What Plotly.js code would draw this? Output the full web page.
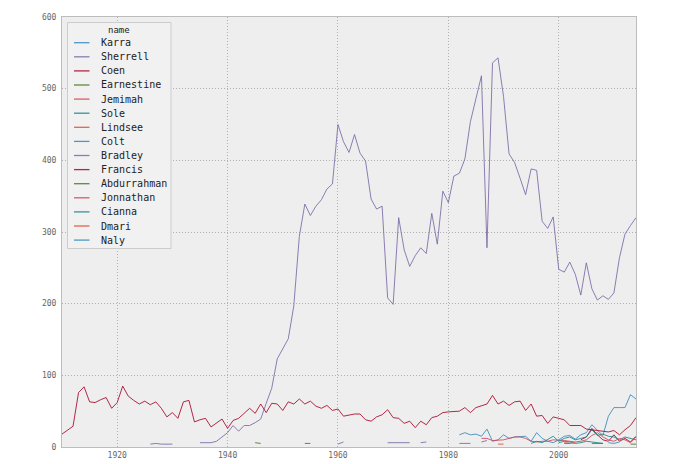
<!DOCTYPE html>
<html>
<head>
<meta charset="utf-8">
<script src="https://cdn.plot.ly/plotly-3.0.1.min.js"></script>
<style>html,body{margin:0;padding:0;background:#fff;}#chart{width:680px;height:464px;}</style>
</head>
<body>
<div id="chart"></div>
<script>
// ---- data ----
const years = [1910,1911,1912,1913,1914,1915,1916,1917,1918,1919,
  1920,1921,1922,1923,1924,1925,1926,1927,1928,1929,
  1930,1931,1932,1933,1934,1935,1936,1937,1938,1939,
  1940,1941,1942,1943,1944,1945,1946,1947,1948,1949,
  1950,1951,1952,1953,1954,1955,1956,1957,1958,1959,
  1960,1961,1962,1963,1964,1965,1966,1967,1968,1969,
  1970,1971,1972,1973,1974,1975,1976,1977,1978,1979,
  1980,1981,1982,1983,1984,1985,1986,1987,1988,1989,
  1990,1991,1992,1993,1994,1995,1996,1997,1998,1999,
  2000,2001,2002,2003,2004,2005,2006,2007,2008,2009,
  2010,2011,2012,2013,2014];

const francisCounts = [18,24,29,76,84,63,62,66,69,54,
  62,85,71,65,60,64,59,63,54,42,
  48,40,63,65,35,38,40,28,33,39,
  26,37,40,47,54,47,60,48,61,60,
  51,63,60,67,60,64,57,54,58,51,
  53,43,45,46,46,38,36,42,45,52,
  41,40,33,36,27,36,31,41,43,48,
  49,50,50,55,48,55,58,60,72,60,
  64,58,63,64,51,60,43,44,33,42,
  40,38,30,30,30,25,24,24,22,21,
  23,17,24,30,41];

const bradleyCounts = [null,null,null,null,null,null,null,null,null,null,
  null,null,null,null,null,null,4,5,4,4,
  4,null,null,null,null,6,6,6,8,14,
  20,30,22,30,30,34,39,61,82,123,
  138,151,197,294,339,323,336,345,360,367,
  450,426,411,436,410,399,346,332,336,208,
  199,320,275,252,267,278,270,326,283,357,
  341,378,382,402,454,487,518,278,536,543,
  489,409,397,375,352,388,386,315,305,321,
  248,244,258,241,212,257,221,205,211,206,
  215,264,297,309,320];

const sherrellYears  = [1960,1961,1962,1969,1970,1971,1972,1973,1974,1975,1976,1977,1982,1983,1984,1985,1986,1987];
const sherrellCounts = [4,7,null,6,6,5,6,6,null,6,7,null,5,5,5,null,7,9];

const karraYears  = [1982,1983,1984,1985,1986,1987,1988,1989,1990,1991,1992,1993,1994,1995,1996,1997,1998];
const karraCounts = [17,20,17,18,15,25,8,10,17,12,14,15,15,8,20,12,8];

const coltYears  = [1998,1999,2000,2001,2002,2003,2004,2005,2006,2007,2008,2009,2010,2011,2012,2013,2014];
const coltCounts = [8,6,10,15,16,11,17,20,31,24,16,43,55,55,55,73,67];

const jemimahYears  = [1986,1987,1988,1989,1990,1991,1992,1993,1994,1995,1996,1997,1998,1999,2000,2001,2002,2003,2004,2005];
const jemimahCounts = [12,12,9,9,10,12,14,14,12,8,7,8,8,10,10,9,8,7,8,10];

const jonnathanYears  = [2005,2006,2007,2008,2009,2010,2011,2012,2013,2014];
const jonnathanCounts = [10,16,20,14,10,8,12,10,6,14];

const coenYears  = [2004,2005,2006,2007,2008,2009,2010,2011,2012,2013,2014];
const coenCounts = [10,14,26,17,10,8,17,8,12,7,15];

const soleYears  = [1995,1996,1997,1998,1999,2000,2001,2002,2003,2004,2005,2006,2007,2008,2009,2010,2011,2012,2013,2014];
const soleCounts = [5,8,6,10,15,8,12,14,10,12,14,24,16,18,15,14,10,14,12,10];

const ciannaYears  = [2000,2001,2002,2003,2004,2005,2006,2007,2008];
const ciannaCounts = [6,8,7,5,6,8,7,6,5];

const lindseeYears  = [1989,1990];
const lindseeCounts = [4,4];

const dmariYears  = [2001,2002,2003];
const dmariCounts = [6,5,6];

const earnestineYears  = [1945,1946,1947,1954,1955];
const earnestineCounts = [6,5,null,5,5];

const abdurrahmanYears  = [2001,2002,2003,2006,2007,2008,2009,2013,2014];
const abdurrahmanCounts = [5,5,null,5,5,5,null,4,4];

const nalyYears  = [2009,2010,2011];
const nalyCounts = [6,5,7];

const xTicks = [1920,1940,1960,1980,2000];
const yTicks = [0,100,200,300,400,500,600];

// ---- series (legend order) ----
const palette = ['#348ABD','#7A68A6','#A60628','#467821','#CF4457','#188487','#E24A33'];
const series = [
  ['Karra', karraYears, karraCounts],
  ['Sherrell', sherrellYears, sherrellCounts],
  ['Coen', coenYears, coenCounts],
  ['Earnestine', earnestineYears, earnestineCounts],
  ['Jemimah', jemimahYears, jemimahCounts],
  ['Sole', soleYears, soleCounts],
  ['Lindsee', lindseeYears, lindseeCounts],
  ['Colt', coltYears, coltCounts],
  ['Bradley', years, bradleyCounts],
  ['Francis', years, francisCounts],
  ['Abdurrahman', abdurrahmanYears, abdurrahmanCounts],
  ['Jonnathan', jonnathanYears, jonnathanCounts],
  ['Cianna', ciannaYears, ciannaCounts],
  ['Dmari', dmariYears, dmariCounts],
  ['Naly', nalyYears, nalyCounts]
];

const LINE_OPACITY = 0.85;
const traces = series.map((s, i) => ({
  type: 'scatter', mode: 'lines', name: s[0], x: s[1], y: s[2],
  connectgaps: false, opacity: LINE_OPACITY,
  line: {color: palette[i % palette.length], width: 1}
}));

// ---- legend drawn as a box with real text (plot area: 62..636 x 17..447 px) ----
const W = 680, H = 464, M = {l: 62, r: 44, t: 17, b: 17};
const pw = W - M.l - M.r, ph = H - M.t - M.b;
const px = v => (v - M.l) / pw;
const py = v => (H - M.b - v) / ph;
const mono = 'DejaVu Sans Mono, monospace';

const shapes = [{
  type: 'rect', xref: 'paper', yref: 'paper',
  x0: px(67.5), x1: px(171), y0: py(248.5), y1: py(22.5),
  fillcolor: '#f1f1f1', line: {color: '#cccccc', width: 1}, layer: 'above'
}];
const annotations = [{
  xref: 'paper', yref: 'paper', x: px(118.5), y: py(29.5), xanchor: 'center', yanchor: 'middle',
  text: 'name', showarrow: false, font: {family: mono, size: 9, color: '#222222'}
}];
series.forEach((s, i) => {
  const yy = 42.7 + 14.1 * i;
  shapes.push({
    type: 'line', xref: 'paper', yref: 'paper',
    x0: px(74), x1: px(89.5), y0: py(yy), y1: py(yy), layer: 'above',
    opacity: LINE_OPACITY, line: {color: palette[i % palette.length], width: 1.3}
  });
  annotations.push({
    xref: 'paper', yref: 'paper', x: px(98.5), y: py(yy), xanchor: 'left', yanchor: 'middle',
    text: s[0], showarrow: false, font: {family: mono, size: 10, color: '#222222'}
  });
});

const axisCommon = {
  showgrid: true, gridcolor: '#b0b0b0', griddash: '1px,2px', gridwidth: 1,
  zeroline: false, showline: true, linecolor: '#bcbcbc', linewidth: 1, mirror: true,
  ticks: '', tickfont: {family: mono, size: 8, color: '#666666'}
};

const layout = {
  width: W, height: H,
  margin: M,
  paper_bgcolor: '#ffffff',
  plot_bgcolor: '#eeeeee',
  font: {family: mono, size: 8, color: '#666666'},
  showlegend: false,
  xaxis: Object.assign({range: [1910, 2014], tickvals: xTicks, ticktext: xTicks.map(String)}, axisCommon),
  yaxis: Object.assign({range: [0, 600], tickvals: yTicks, ticktext: yTicks.map(String), ticklabelstandoff: 3}, axisCommon),
  shapes: shapes,
  annotations: annotations
};

Plotly.newPlot('chart', traces, layout, {staticPlot: true, displayModeBar: false});
</script>
</body>
</html>
